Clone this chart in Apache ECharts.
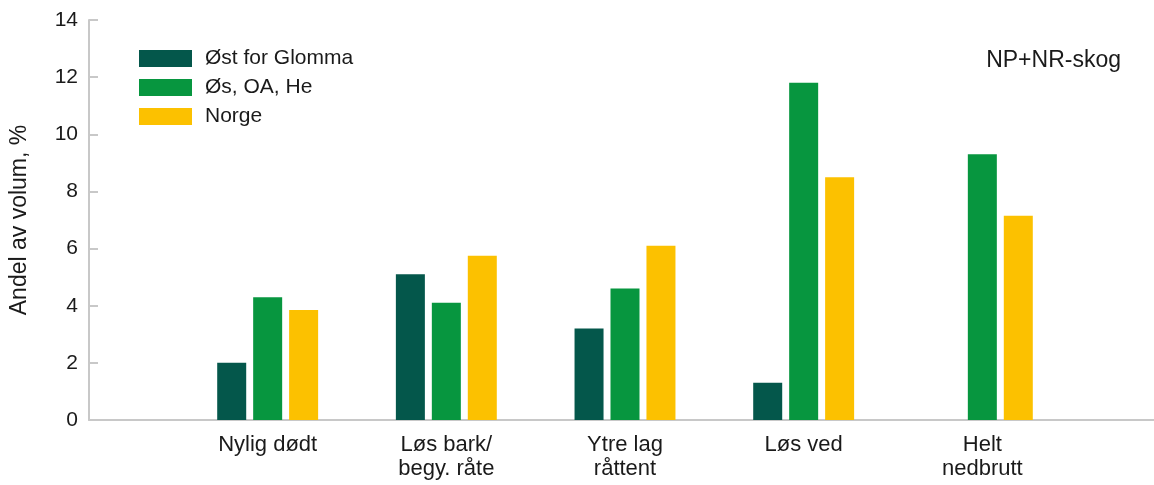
<!DOCTYPE html>
<html>
<head>
<meta charset="utf-8">
<script src="https://cdn.jsdelivr.net/npm/echarts@6/dist/echarts.min.js"></script>
<style>
html,body{margin:0;padding:0;background:#fff;}
#c{width:1154px;height:485px;}
</style>
</head>
<body>
<div id="c"></div>
<script>
const categories = ['', 'Nylig dødt', 'Løs bark/\nbegy. råte', 'Ytre lag\nråttent', 'Løs ved', 'Helt\nnedbrutt', ''];
const seriesNames = ['Øst for Glomma', 'Øs, OA, He', 'Norge'];
const ostForGlomma = ['-', 2.0, 5.1, 3.2, 1.3, '-', '-'];
const osOaHe = ['-', 4.3, 4.1, 4.6, 11.8, 9.3, '-'];
const norge = ['-', 3.85, 5.75, 6.1, 8.5, 7.15, '-'];
const yTicks = [0, 2, 4, 6, 8, 10, 12, 14];
const colors = ['#04574B', '#07963F', '#FCC100'];

const chart = echarts.init(document.getElementById('c'));
const font = 'Liberation Sans, Arial, sans-serif';
const txt = '#1a1a1a';
const axisCol = '#C8C8C8';

chart.setOption({
  animation: false,
  backgroundColor: '#fff',
  textStyle: { fontFamily: font },
  title: {
    text: 'NP+NR-skog',
    right: 33, top: 49,
    padding: 0,
    textStyle: { fontFamily: font, fontSize: 23, fontWeight: 'normal', color: txt }
  },
  legend: {
    orient: 'vertical',
    left: 139, top: 48,
    padding: 0,
    itemWidth: 53, itemHeight: 17, itemGap: 8,
    icon: 'rect',
    data: seriesNames,
    textStyle: { fontFamily: font, fontSize: 21, lineHeight: 21, color: txt, padding: [0, 0, 0, 8] }
  },
  grid: { left: 89, width: 1072, top: 20, bottom: 65, containLabel: false, outerBoundsMode: 'none' },
  xAxis: {
    type: 'category',
    data: categories,
    boundaryGap: false,
    axisLine: { show: true, lineStyle: { color: axisCol, width: 2 } },
    axisTick: { show: false },
    axisLabel: { interval: 0, margin: 13, fontFamily: font, fontSize: 22, color: txt, lineHeight: 24 },
    splitLine: { show: false }
  },
  yAxis: {
    type: 'value',
    min: yTicks[0], max: yTicks[yTicks.length - 1], interval: 2,
    name: 'Andel av volum, %',
    nameLocation: 'middle',
    nameGap: 58,
    nameTextStyle: { fontFamily: font, fontSize: 23, color: txt },
    axisLine: { show: true, lineStyle: { color: axisCol, width: 2 } },
    axisTick: { show: true, inside: true, length: 9, lineStyle: { color: axisCol, width: 2 } },
    axisLabel: { margin: 11, fontFamily: font, fontSize: 21, color: txt },
    splitLine: { show: false }
  },
  series: [
    { name: seriesNames[0], type: 'bar', data: ostForGlomma, barWidth: 29, barGap: '24%', itemStyle: { color: colors[0] } },
    { name: seriesNames[1], type: 'bar', data: osOaHe, barWidth: 29, barGap: '24%', itemStyle: { color: colors[1] } },
    { name: seriesNames[2], type: 'bar', data: norge, barWidth: 29, barGap: '24%', itemStyle: { color: colors[2] } }
  ]
});
</script>
</body>
</html>
